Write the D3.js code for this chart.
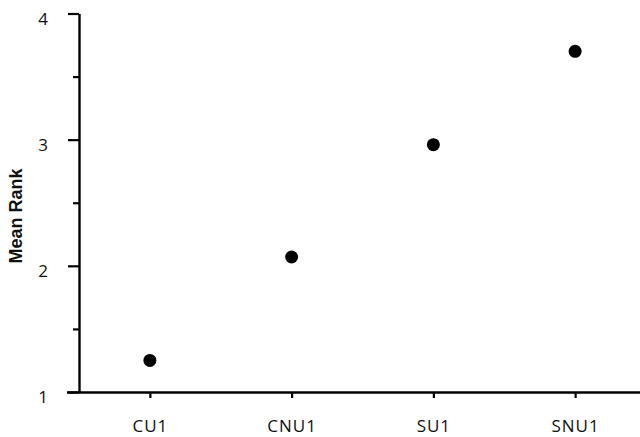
<!DOCTYPE html>
<html>
<head>
<meta charset="utf-8">
<script src="https://cdn.jsdelivr.net/npm/d3@7"></script>
<style>
  html, body { margin: 0; padding: 0; background: #fff; }
  svg { display: block; }
</style>
</head>
<body>
<svg id="chart" width="640" height="437"></svg>
<script>
// Mean rank per condition
const categories = ["CU1", "CNU1", "SU1", "SNU1"];
const meanRank = [1.25, 2.07, 2.96, 3.70];
const yTicks = [1, 2, 3, 4];
const yMinorTicks = [1.5, 2.5, 3.5];

const svg = d3.select("#chart");
const W = 640, H = 437;
const x0 = 79, yTop = 13.5, yBottom = 392;
const labelFont = "'Open Sans', 'Segoe UI', sans-serif";

const x = d3.scalePoint().domain(categories).range([x0, 646]).padding(0.5);
const y = d3.scaleLinear().domain([1, 4]).range([yBottom, yTop]);

function styleLabels(g) {
  g.selectAll(".tick text")
    .style("font-family", labelFont)
    .style("font-size", "17px")
    .style("letter-spacing", "1px")
    .style("fill", "#111");
}

// minor y ticks
svg.append("g")
  .attr("transform", `translate(${x0},0)`)
  .call(d3.axisLeft(y).tickValues(yMinorTicks).tickSize(6).tickFormat(""))
  .call(g => g.select(".domain").remove())
  .call(g => g.selectAll(".tick line").attr("stroke", "#000").attr("stroke-width", 2.2));

// major y ticks + line
const yAxis = svg.append("g")
  .attr("transform", `translate(${x0},0)`)
  .call(d3.axisLeft(y).tickValues(yTicks).tickSize(11).tickSizeOuter(0).tickPadding(19).tickFormat(d3.format("d")));
yAxis.select(".domain").attr("stroke", "#000").attr("stroke-width", 2.4);
yAxis.selectAll(".tick line").attr("stroke", "#000").attr("stroke-width", 2.2);
yAxis.selectAll(".tick text").attr("dy", "0.62em").attr("y", 0);
styleLabels(yAxis);

// x axis
const xAxis = svg.append("g")
  .attr("transform", `translate(0,${yBottom})`)
  .call(d3.axisBottom(x).tickSize(6).tickSizeOuter(0).tickPadding(22));
xAxis.select(".domain").attr("d", `M${x0 - 12},0.5H${W}`).attr("stroke", "#000").attr("stroke-width", 2.4);
xAxis.selectAll(".tick line").attr("stroke", "#000").attr("stroke-width", 2.2);
styleLabels(xAxis);

// y axis title
svg.append("text")
  .attr("transform", "translate(21.5,216) rotate(-90)")
  .attr("text-anchor", "middle")
  .style("font-family", "'Liberation Sans', Arial, sans-serif")
  .style("font-weight", "bold")
  .style("font-size", "18px")
  .style("fill", "#111")
  .text("Mean Rank");

// points
svg.append("g").selectAll("circle")
  .data(categories.map((c, i) => ({ c, v: meanRank[i] })))
  .join("circle")
  .attr("cx", d => x(d.c))
  .attr("cy", d => y(d.v))
  .attr("r", 6.5)
  .attr("fill", "#000");
</script>
</body>
</html>
